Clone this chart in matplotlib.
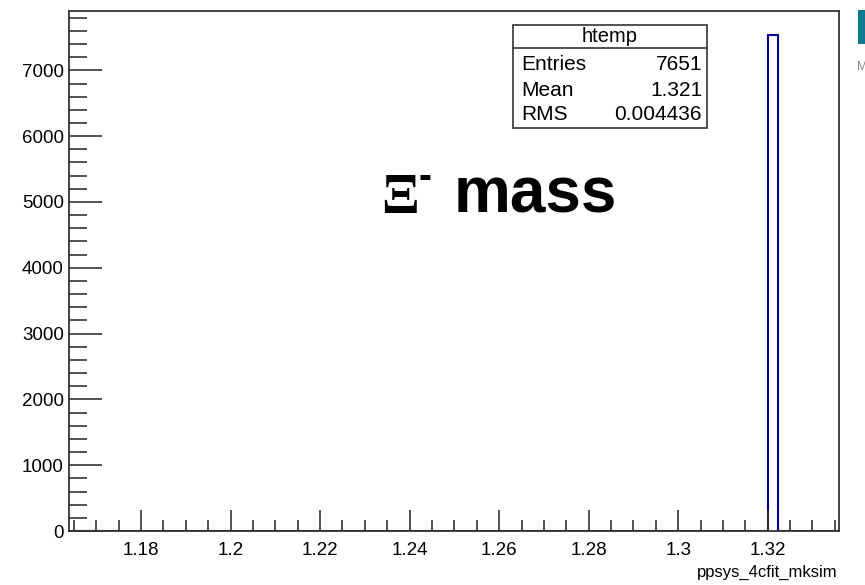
import matplotlib
matplotlib.use("Agg")
import matplotlib.pyplot as plt
import numpy as np
from matplotlib.patches import Rectangle

# histogram of ppsys_4cfit_mksim (bin edges + counts)
bin_edges = [1.164, 1.3166, 1.3184, 1.3201, 1.3222, 1.336]
bin_counts = [0, 6, 6, 7530, 0]

stats_title = "htemp"
stats_rows = [("Entries", "7651"), ("Mean", "1.321"), ("RMS", "0.004436")]

x_ticks = [1.18, 1.2, 1.22, 1.24, 1.26, 1.28, 1.3, 1.32]
x_tick_labels = ["1.18", "1.2", "1.22", "1.24", "1.26", "1.28", "1.3", "1.32"]
y_ticks = [0, 1000, 2000, 3000, 4000, 5000, 6000, 7000]

plt.rcParams['font.family'] = ['Liberation Sans', 'DejaVu Sans']

fig = plt.figure(figsize=(8.65, 5.85), dpi=100)
ax = fig.add_axes([0.0803, 0.0923, 0.8900, 0.8894])

ax.stairs(bin_counts, bin_edges, color="#000099", linewidth=1.5)

ax.set_xlim(1.164, 1.336)
ax.set_ylim(0, max(bin_counts) * 1.05)

ax.set_xticks(x_ticks)
ax.set_xticklabels(x_tick_labels)
ax.set_xticks(np.arange(1.165, 1.336, 0.005), minor=True)
ax.set_yticks(y_ticks)
ax.set_yticks(np.arange(0, 7900, 200), minor=True)

ax.tick_params(axis="both", which="both", direction="in", colors="#333333",
               labelcolor="black", labelsize=13.5, width=1.2)
ax.tick_params(axis="x", which="major", length=15, pad=8)
ax.tick_params(axis="x", which="minor", length=8)
ax.tick_params(axis="y", which="major", length=24, pad=4)
ax.tick_params(axis="y", which="minor", length=13)
ax.tick_params(top=False, right=False, which="both")
for s in ax.spines.values():
    s.set_color("#333333")
    s.set_linewidth(1.3)

# x axis title at the right end
fig.text(838 / 865, 1 - 572 / 585, "ppsys_4cfit_mksim", ha="right", va="center",
         fontsize=12)

# stats box
bx0, bx1, by0, by1, bsep = 513, 707, 25, 128, 48
fig.patches.append(Rectangle((bx0 / 865, 1 - by1 / 585), (bx1 - bx0) / 865,
                             (by1 - by0) / 585, transform=fig.transFigure,
                             facecolor="white", edgecolor="#333333", linewidth=1.2))
fig.add_artist(plt.Line2D([bx0 / 865, bx1 / 865], [1 - bsep / 585, 1 - bsep / 585],
                          transform=fig.transFigure, color="#333333", linewidth=1.2))
fig.text((bx0 + bx1) / 2 / 865, 1 - 37 / 585, stats_title, ha="center", va="center",
         fontsize=14.5)
for i, (k, v) in enumerate(stats_rows):
    yy = 1 - (65 + i * 25) / 585
    fig.text((bx0 + 8) / 865, yy, k, ha="left", va="center", fontsize=15)
    fig.text((bx1 - 5) / 865, yy, v, ha="right", va="center", fontsize=15)

# big label
fig.text(381 / 865, 1 - 199 / 585, "Ξ", ha="left", va="center", fontsize=40,
         fontweight="bold", family=["Liberation Serif", "DejaVu Serif"])
fig.text(419 / 865, 1 - 178 / 585, "-", ha="left", va="center", fontsize=28,
         fontweight="bold")
fig.text(454 / 865, 1 - 196 / 585, "mass", ha="left", va="center", fontsize=46,
         fontweight="bold")

# clipped bits at the right edge of the original screenshot
fig.patches.append(Rectangle((858 / 865, 1 - 44 / 585), 10 / 865, 34 / 585,
                             transform=fig.transFigure, facecolor="#0b7a8f",
                             edgecolor="none"))
fig.text(857 / 865, 1 - 67 / 585, "M", ha="left", va="center", fontsize=9,
         color="#888888", clip_on=False)

plt.savefig("out.png", dpi=100)
